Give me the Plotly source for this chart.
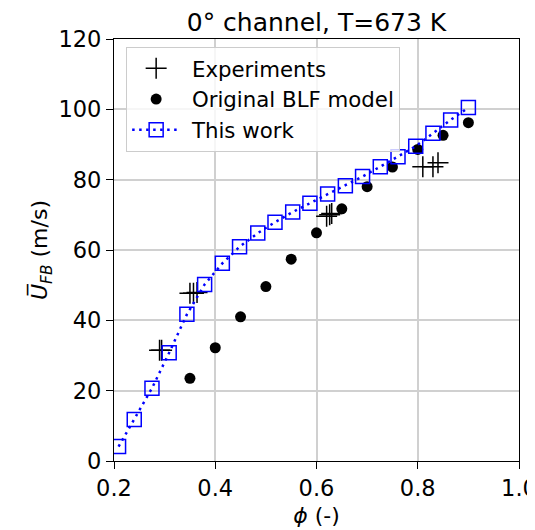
import plotly.graph_objects as go

# Experiments
exp_phi = [0.290, 0.294, 0.350, 0.357, 0.364, 0.620, 0.626, 0.630, 0.810, 0.830, 0.840]
exp_u = [31.5, 31.5, 47.7, 47.7, 47.9, 69.6, 70.0, 70.4, 83.7, 83.7, 84.8]

# Original BLF model
blf_phi = [0.35, 0.40, 0.45, 0.50, 0.55, 0.60, 0.65, 0.70, 0.75, 0.80, 0.85, 0.90]
blf_u = [23.5, 32.2, 41.0, 49.6, 57.4, 64.9, 71.7, 78.0, 83.6, 88.6, 92.6, 96.2]

# This work
tw_phi = [0.209, 0.240, 0.275, 0.309, 0.344, 0.379, 0.414, 0.448, 0.484, 0.518, 0.553,
          0.587, 0.622, 0.657, 0.691, 0.726, 0.761, 0.796, 0.830, 0.865, 0.900]
tw_u = [4.1, 11.8, 20.7, 30.8, 41.7, 50.2, 56.2, 60.9, 64.8, 67.9, 70.8,
        73.3, 75.9, 78.3, 80.9, 83.7, 86.5, 89.5, 93.2, 97.0, 100.5]

x_ticks = [0.2, 0.4, 0.6, 0.8, 1.0]
y_ticks = [0, 20, 40, 60, 80, 100, 120]

FONT = "DejaVu Sans"

fig = go.Figure()
fig.add_trace(go.Scatter(
    x=exp_phi, y=exp_u, mode="markers", name=" Experiments", legendgroup="a",
    marker=dict(symbol="cross-thin", size=15, color="black",
                line=dict(color="black", width=1.5)),
))
fig.add_trace(go.Scatter(
    x=blf_phi, y=blf_u, mode="markers", name=" Original BLF model", legendgroup="b",
    marker=dict(symbol="circle", size=11, color="black", line=dict(width=0)),
))
fig.add_trace(go.Scatter(
    x=tw_phi, y=tw_u, mode="lines+markers", name=" This work", legendgroup="c",
    line=dict(color="#0000ff", width=2.5, dash="2.5px,4.5px"),
    marker=dict(symbol="square-open", size=14, color="#0000ff",
                line=dict(color="#0000ff", width=1.5)),
))

axis_common = dict(
    showline=True, linecolor="black", linewidth=1.3, mirror=True,
    ticks="outside", ticklen=7, tickwidth=1.3, tickcolor="black",
    showgrid=True, gridcolor="#d0d0d0", gridwidth=1.5, zeroline=False,
    tickfont=dict(family=FONT, size=22.5, color="black"),
    ticklabeloverflow="allow", automargin=False, ticklabelstandoff=0,
)

# page body has an 8px margin, so the figure is sized/offset to compensate
W, H = 527, 522
L, R, T, B = 106, 16, 31, 69
PW = W - L - R
fig.update_layout(
    width=W, height=H,
    margin=dict(l=L, r=R, t=T, b=B, autoexpand=False),
    paper_bgcolor="white", plot_bgcolor="white",
    font=dict(family=FONT, size=21, color="black"),
    title=dict(text="0° channel, T=673 K", x=(L + PW / 2) / W, xanchor="center",
               y=1 - 14 / H, yanchor="middle", yref="container",
               font=dict(family=FONT, size=25, color="black")),
    xaxis=dict(range=[0.2, 1.0], tickvals=x_ticks, ticktext=[f"{v:.1f}" for v in x_ticks],
               title=dict(text="<i>ϕ</i> (-)", standoff=7,
                          font=dict(family=FONT, size=22, color="black")),
               **axis_common),
    yaxis=dict(range=[0, 120], tickvals=y_ticks, ticktext=[str(v) for v in y_ticks],
               title=dict(text="<i>U̅</i><sub><i>FB</i></sub> (m/s)", standoff=4,
                          font=dict(family=FONT, size=22, color="black")),
               **axis_common),
    legend=dict(x=0.03, y=(461 - 47) / 422, xanchor="left", yanchor="top",
                bgcolor="rgba(255,255,255,0.8)", bordercolor="#cccccc", borderwidth=1,
                font=dict(family=FONT, size=21.3, color="black"),
                tracegroupgap=0, itemwidth=48),
    showlegend=True,
)

fig.write_html("out.html", config={"displayModeBar": False})
